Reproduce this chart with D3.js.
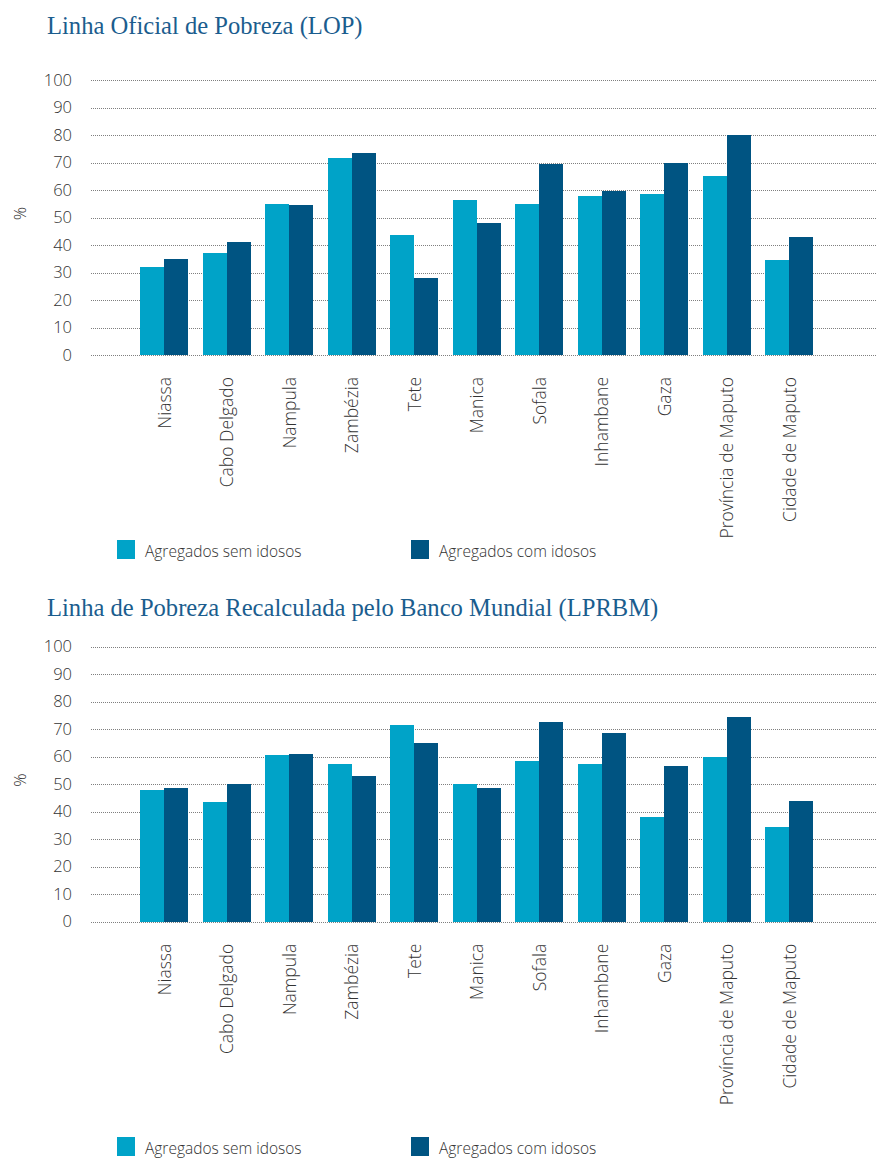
<!DOCTYPE html>
<html lang="pt">
<head>
<meta charset="utf-8">
<script src="https://cdn.jsdelivr.net/npm/d3@7"></script>
<style>
  html, body { margin: 0; padding: 0; background: #fff; }
  svg { display: block; }
  .tick-num { font-family: "Open Sans", "Noto Sans", sans-serif; font-weight: 300; font-size: 16.5px; fill: #333; }
  .cat { font-family: "Open Sans", "Noto Sans", sans-serif; font-weight: 300; font-size: 17.5px; fill: #333; }
  .title { font-family: "Liberation Serif", "DejaVu Serif", serif; font-size: 24.6px; fill: #1b5d8e; }
  .legend { font-family: "Open Sans", "Noto Sans", sans-serif; font-weight: 300; font-size: 15.5px; fill: #333; }
</style>
</head>
<body>
<svg id="chart" width="876" height="1161"></svg>
<script>
// Provinces (same order in both panels)
const provinces = ["Niassa", "Cabo Delgado", "Nampula", "Zambézia", "Tete", "Manica",
  "Sofala", "Inhambane", "Gaza", "Província de Maputo", "Cidade de Maputo"];

const seriesNames = ["Agregados sem idosos", "Agregados com idosos"];

// Poverty rate (%) – official poverty line
const lopSemIdosos = [32, 37, 55, 71.5, 43.5, 56.5, 55, 58, 58.5, 65, 34.5];
const lopComIdosos = [35, 41, 54.5, 73.5, 28, 48, 69.5, 59.5, 70, 80, 43];

// Poverty rate (%) – poverty line recalculated by the World Bank
const lprbmSemIdosos = [48, 43.5, 60.5, 57.5, 71.5, 50, 58.5, 57.5, 38, 60, 34.5];
const lprbmComIdosos = [48.5, 50, 61, 53, 65, 48.5, 72.5, 68.5, 56.5, 74.5, 44];

const yTicks = [0, 10, 20, 30, 40, 50, 60, 70, 80, 90, 100];

const panelTitles = [
  "Linha Oficial de Pobreza (LOP)",
  "Linha de Pobreza Recalculada pelo Banco Mundial (LPRBM)"
];

const colors = ["#00a3c8", "#005482"];

const svg = d3.select("#chart");

const panels = [
  { title: panelTitles[0], sem: lopSemIdosos, com: lopComIdosos,
    titleY: 34, top: 80, bottom: 355, legendY: 540 },
  { title: panelTitles[1], sem: lprbmSemIdosos, com: lprbmComIdosos,
    titleY: 616, top: 646.7, bottom: 921.7, legendY: 1137 }
];

const gridLeft = 91, gridRight = 876;

const x0 = d3.scaleBand()
  .domain(provinces)
  .range([132.75, 820.25])
  .paddingInner(0.232)
  .paddingOuter(0.116);

const x1 = d3.scaleBand()
  .domain(seriesNames)
  .range([0, x0.bandwidth()])
  .padding(0);

const color = d3.scaleOrdinal().domain(seriesNames).range(colors);

panels.forEach(p => {
  const g = svg.append("g");

  g.append("text")
    .attr("class", "title")
    .attr("x", 47)
    .attr("y", p.titleY)
    .text(p.title);

  const y = d3.scaleLinear().domain([0, 100]).range([p.bottom, p.top]);

  // Value axis with dotted gridlines
  const yAxis = d3.axisLeft(y)
    .tickValues(yTicks)
    .tickSize(-(gridRight - gridLeft))
    .tickPadding(19)
    .tickFormat(d3.format("d"));

  const ya = g.append("g")
    .attr("transform", `translate(${gridLeft},0)`)
    .call(yAxis);
  ya.select(".domain").remove();
  ya.selectAll(".tick line")
    .attr("stroke", "#7f7f7f")
    .attr("stroke-width", 1)
    .attr("stroke-dasharray", "1,1")
    .attr("shape-rendering", "crispEdges");
  ya.selectAll(".tick text")
    .attr("class", "tick-num")
    .attr("fill", null);
  ya.attr("font-size", null).attr("font-family", null);

  // Axis unit
  g.append("text")
    .attr("class", "tick-num")
    .attr("transform", `translate(26,${(p.top + p.bottom) / 2 - 4}) rotate(-90)`)
    .attr("text-anchor", "middle")
    .text("%");

  // Bars
  const rows = provinces.map((name, i) => ({
    name,
    values: [
      { key: seriesNames[0], value: p.sem[i] },
      { key: seriesNames[1], value: p.com[i] }
    ]
  }));

  const groups = g.append("g")
    .selectAll("g")
    .data(rows)
    .join("g")
    .attr("transform", d => `translate(${x0(d.name)},0)`);

  groups.selectAll("rect")
    .data(d => d.values)
    .join("rect")
    .attr("x", d => x1(d.key))
    .attr("width", x1.bandwidth())
    .attr("y", d => y(d.value))
    .attr("height", d => y(0) - y(d.value))
    .attr("fill", d => color(d.key))
    .attr("shape-rendering", "crispEdges");

  // Category axis with rotated province names
  const xa = g.append("g")
    .attr("transform", `translate(0,${p.bottom})`)
    .call(d3.axisBottom(x0).tickSize(0));
  xa.select(".domain").remove();
  xa.attr("font-size", null).attr("font-family", null);
  xa.selectAll(".tick text")
    .attr("class", "cat")
    .attr("fill", null)
    .attr("transform", "rotate(-90)")
    .attr("text-anchor", "end")
    .attr("x", -22)
    .attr("y", 6.5)
    .attr("dy", 0);

  // Legend
  const legendX = [117, 411];
  const lg = g.append("g")
    .selectAll("g")
    .data(seriesNames)
    .join("g")
    .attr("transform", (d, i) => `translate(${legendX[i]},${p.legendY})`);
  lg.append("rect")
    .attr("width", 18)
    .attr("height", 19)
    .attr("fill", d => color(d));
  lg.append("text")
    .attr("class", "legend")
    .attr("x", 28)
    .attr("y", 17)
    .text(d => d);
});
</script>
</body>
</html>
